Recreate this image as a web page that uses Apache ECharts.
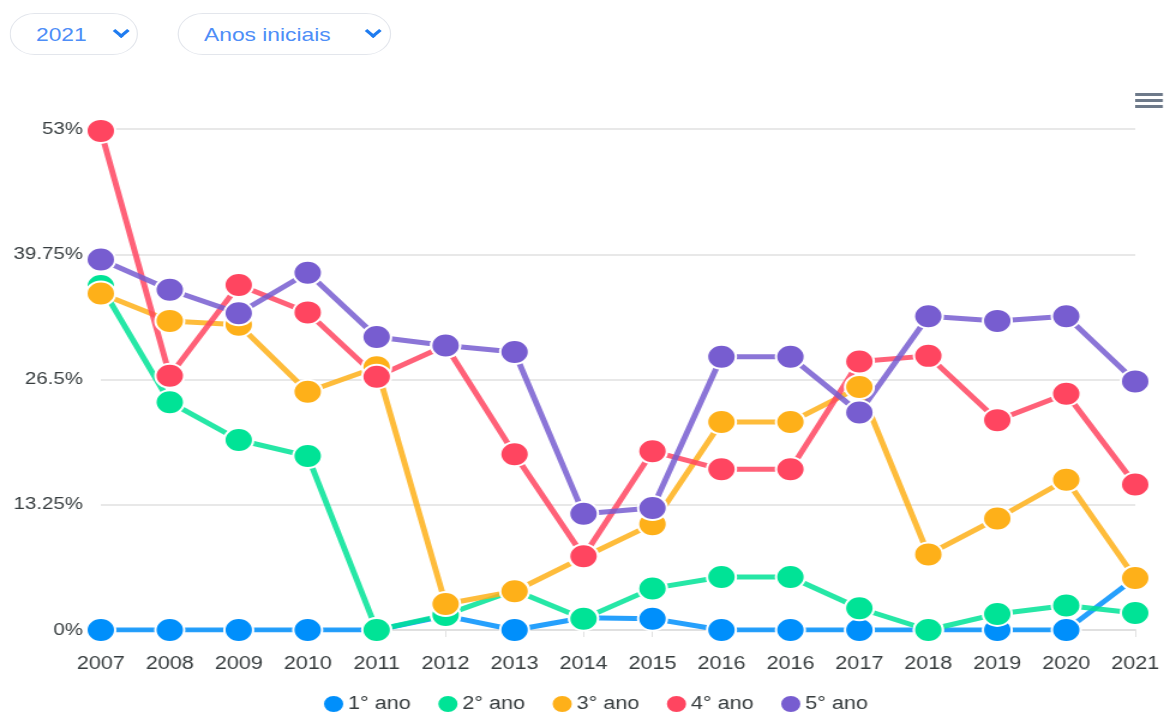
<!DOCTYPE html>
<html>
<head>
<meta charset="utf-8">
<script src="https://cdn.jsdelivr.net/npm/echarts@6/dist/echarts.min.js"></script>
<style>
  html, body { margin: 0; padding: 0; background: #fff; width: 1165px; height: 715px; overflow: hidden; }
  /* a imagem original está esticada na horizontal (~1.2x); reproduzimos isso */
  #page { position: absolute; left: 0; top: 0; width: 971px; height: 715px; transform: scaleX(1.2); transform-origin: 0 0; }
  #chart { position: absolute; left: 0; top: 0; width: 971px; height: 715px; }
  .pill {
    position: absolute; top: 13px; height: 42px; border: 1px solid #e3e6ec; border-radius: 22px;
    font-family: "Liberation Sans", Arial, sans-serif; font-size: 19px; color: #4e8ef7;
    box-sizing: border-box; background: #fff; z-index: 2;
  }
  .pill span.t { position: absolute; top: 10px; }
  .chev { position: absolute; width: 7px; height: 7px; border-right: 3px solid #1f7cf0; border-bottom: 3px solid #1f7cf0; transform: rotate(45deg); top: 12px; }
  .menu { position: absolute; left: 946px; top: 93px; width: 23px; z-index: 2; }
  .menu div { height: 3px; background: #6e7a8a; margin-bottom: 3px; }
</style>
</head>
<body>
<div id="page">
  <div class="pill" style="left:8px;width:107px;"><span class="t" style="left:21px;">2021</span><span class="chev" style="left:87px;"></span></div>
  <div class="pill" style="left:148px;width:178px;"><span class="t" style="left:21px;">Anos iniciais</span><span class="chev" style="left:157px;"></span></div>
  <div class="menu"><div></div><div></div><div></div></div>
  <div id="chart"></div>
</div>
<script>
'use strict';

// anos no eixo x (2016 aparece duas vezes no original)
const years = ['2007', '2008', '2009', '2010', '2011', '2012', '2013', '2014', '2015', '2016', '2016', '2017', '2018', '2019', '2020', '2021'];

const ano1 = [0, 0, 0, 0, 0, 1.5, 0, 1.3, 1.2, 0, 0, 0, 0, 0, 0, 5.5];
const ano2 = [36.4, 24.1, 20.1, 18.4, 0, 1.6, 4.2, 1.2, 4.4, 5.6, 5.6, 2.3, 0, 1.7, 2.6, 1.8];
const ano3 = [35.6, 32.7, 32.3, 25.2, 27.8, 2.75, 4.1, 7.7, 11.2, 22, 22, 25.7, 8.0, 11.8, 15.9, 5.5];
const ano4 = [52.8, 26.9, 36.5, 33.6, 26.8, 30.1, 18.6, 7.8, 18.9, 17.0, 17.0, 28.4, 29.0, 22.2, 25.0, 15.4];
const ano5 = [39.2, 36.0, 33.5, 37.8, 31.0, 30.1, 29.4, 12.3, 12.9, 28.9, 28.9, 23.0, 33.2, 32.7, 33.2, 26.3];

const seriesNames = ['1° ano', '2° ano', '3° ano', '4° ano', '5° ano'];
const seriesData = [ano1, ano2, ano3, ano4, ano5];
const PALETTE = ['#008FFB', '#00E396', '#FEB019', '#FF4560', '#775DD0'];

const yTicks = { min: 0, max: 53, interval: 13.25 };

const chart = echarts.init(document.getElementById('chart'), null, { renderer: 'canvas' });
const FONT = '"Liberation Sans", Arial, sans-serif';

chart.setOption({
  animation: false,
  color: PALETTE,
  grid: { left: 84, right: 25, top: 129, bottom: 85, containLabel: false },
  legend: {
    bottom: -4,
    left: 263,
    icon: 'circle',
    itemWidth: 18,
    itemHeight: 18,
    itemGap: 21,
    textStyle: { color: '#373d3f', fontSize: 18, fontFamily: FONT, padding: [0, 0, 0, -2] },
    data: seriesNames
  },
  xAxis: {
    type: 'category',
    boundaryGap: false,
    data: years,
    axisLine: { lineStyle: { color: '#e0e0e0', width: 2 } },
    axisTick: { show: true, alignWithLabel: true, length: 7, lineStyle: { color: '#e0e0e0' } },
    axisLabel: { color: '#373d3f', fontSize: 18, fontFamily: FONT, margin: 25 },
    splitLine: { show: false }
  },
  yAxis: {
    type: 'value',
    min: yTicks.min,
    max: yTicks.max,
    interval: yTicks.interval,
    axisLine: { show: false },
    axisTick: { show: false },
    axisLabel: { color: '#373d3f', fontSize: 17, fontFamily: FONT, margin: 15, formatter: (v) => v + '%' },
    splitLine: { lineStyle: { color: '#e8e8e8', width: 2 } }
  },
  series: seriesNames.map((name, i) => ({
    name,
    type: 'line',
    data: seriesData[i],
    symbol: 'circle',
    symbolSize: 24,
    showSymbol: true,
    lineStyle: { width: 5, color: PALETTE[i], opacity: 0.85 },
    itemStyle: { color: PALETTE[i], borderColor: '#fff', borderWidth: 2 },
    emphasis: { disabled: true }
  }))
});
</script>
</body>
</html>
